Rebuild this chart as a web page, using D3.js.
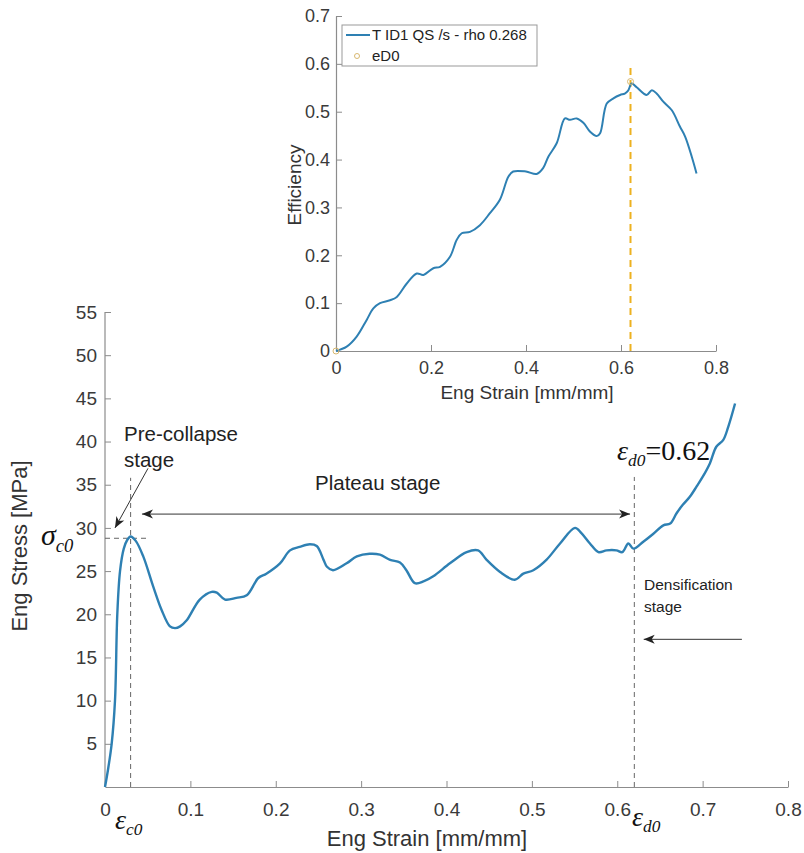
<!DOCTYPE html>
<html>
<head>
<meta charset="utf-8">
<script src="https://cdn.jsdelivr.net/npm/d3@7"></script>
<style>
  body { margin: 0; background: #fff; }
  svg { display: block; }
  .tick text { font-family: "Liberation Sans", Arial, sans-serif; fill: #3a3a3a; }
</style>
</head>
<body>
<svg id="chart" width="804" height="853"></svg>
<script>
// ---- main stress-strain curve (strain, stress in MPa) ----
const stressStrain = [0, 0.0035, 0.0078, 0.0117, 0.0144, 0.0176, 0.022, 0.026, 0.030, 0.036,
  0.0448, 0.0565, 0.0663, 0.0761, 0.082, 0.088, 0.0957, 0.111, 0.125, 0.131,
  0.1406, 0.154, 0.166, 0.1796, 0.189, 0.205, 0.2167, 0.228, 0.24, 0.248,
  0.256, 0.26, 0.267, 0.283, 0.295, 0.31, 0.322, 0.334, 0.3455, 0.353,
  0.363, 0.373, 0.3845, 0.404, 0.4236, 0.437, 0.447, 0.4627, 0.48, 0.49,
  0.5017, 0.517, 0.533, 0.5505, 0.558, 0.568, 0.578, 0.5875, 0.599, 0.606,
  0.613, 0.619, 0.6305, 0.642, 0.654, 0.662, 0.6695, 0.677, 0.685, 0.693,
  0.7, 0.7086, 0.716, 0.7242, 0.730, 0.738];
const stressValues = [0, 2, 5, 10, 20, 25, 27.6, 28.6, 29.0, 28.5,
  26.7, 23.2, 20.5, 18.6, 18.4, 18.6, 19.3, 21.7, 22.6, 22.5,
  21.7, 21.9, 22.2, 24.2, 24.7, 25.9, 27.4, 27.8, 28.1, 27.9,
  26.3, 25.5, 25.1, 25.9, 26.7, 27.0, 26.9, 26.3, 26.0, 25.1,
  23.6, 23.8, 24.4, 25.9, 27.2, 27.4, 26.3, 24.9, 24.0, 24.7,
  25.1, 26.3, 28.2, 30.0, 29.4, 28.2, 27.2, 27.4, 27.4, 27.2,
  28.2, 27.6, 28.4, 29.3, 30.3, 30.5, 31.7, 32.7, 33.6, 34.8,
  35.9, 37.5, 39.4, 40.2, 41.7, 44.4];

// ---- inset efficiency curve ----
const effStrain = [0, 0.0225, 0.0435, 0.0646, 0.0786, 0.0926, 0.1137, 0.128, 0.149, 0.17,
  0.184, 0.2049, 0.219, 0.24, 0.254, 0.2646, 0.282, 0.303, 0.324, 0.345,
  0.3628, 0.373, 0.40, 0.4225, 0.436, 0.447, 0.4646, 0.482, 0.4926, 0.5067,
  0.5207, 0.535, 0.549, 0.556, 0.57, 0.584, 0.598, 0.608, 0.615, 0.6225,
  0.633, 0.654, 0.665, 0.675, 0.689, 0.707, 0.724, 0.735, 0.749, 0.759];
const effValues = [0, 0.009, 0.030, 0.065, 0.089, 0.100, 0.106, 0.113, 0.141, 0.162,
  0.159, 0.173, 0.176, 0.197, 0.232, 0.246, 0.249, 0.263, 0.288, 0.316,
  0.364, 0.375, 0.375, 0.370, 0.382, 0.406, 0.434, 0.486, 0.483, 0.486,
  0.477, 0.458, 0.449, 0.455, 0.517, 0.528, 0.535, 0.538, 0.544, 0.559,
  0.551, 0.535, 0.545, 0.538, 0.521, 0.503, 0.469, 0.448, 0.406, 0.371];

// characteristic points
const epsC0 = 0.03;
const sigmaC0 = 28.8;
const epsD0 = 0.62;
const eD0Points = [[0, 0], [0.62, 0.563]];

// ticks
const mainXTicks = [0, 0.1, 0.2, 0.3, 0.4, 0.5, 0.6, 0.7, 0.8];
const mainYTicks = [5, 10, 15, 20, 25, 30, 35, 40, 45, 50, 55];
const insetXTicks = [0, 0.2, 0.4, 0.6, 0.8];
const insetYTicks = [0, 0.1, 0.2, 0.3, 0.4, 0.5, 0.6, 0.7];

const legendLabels = ["T ID1 QS /s - rho 0.268", "eD0"];

const svg = d3.select("#chart");
const sans = '"Liberation Sans", Arial, sans-serif';
const serif = '"Liberation Serif", "Times New Roman", serif';
const axisGray = "#8c8c8c";
const lineBlue = "#2e80b3";

svg.append("rect").attr("width", 804).attr("height", 853).attr("fill", "#fff");

// arrow head marker
const defs = svg.append("defs");
defs.append("marker")
  .attr("id", "head")
  .attr("viewBox", "-12 -6 14 12")
  .attr("refX", 0).attr("refY", 0)
  .attr("markerUnits", "userSpaceOnUse")
  .attr("markerWidth", 14).attr("markerHeight", 12)
  .attr("orient", "auto-start-reverse")
  .append("path")
  .attr("d", "M-11,-4.5 L0,0 L-11,4.5 L-8,0 Z")
  .attr("fill", "#222");

function styleAxis(g, fontSize) {
  g.select(".domain").attr("stroke", axisGray).attr("stroke-width", 1.2);
  g.selectAll(".tick line").attr("stroke", axisGray);
  g.selectAll(".tick text").attr("font-size", fontSize);
}

// ================= main chart =================
const x = d3.scaleLinear().domain([0, 0.8]).range([105, 788]);
const y = d3.scaleLinear().domain([0, 55]).range([787, 312]);

const xAxis = svg.append("g")
  .attr("transform", `translate(0,${y(0)})`)
  .call(d3.axisBottom(x).tickValues(mainXTicks).tickFormat(d => d === 0 ? "0" : d3.format(".1f")(d))
    .tickSize(-6).tickSizeOuter(0).tickPadding(16));
styleAxis(xAxis, 19);
xAxis.selectAll(".tick line").filter(d => d === 0).remove();

const yAxis = svg.append("g")
  .attr("transform", `translate(${x(0)},0)`)
  .call(d3.axisLeft(y).tickValues(mainYTicks).tickSize(-6).tickSizeOuter(0).tickPadding(8));
styleAxis(yAxis, 19);
yAxis.select(".domain").attr("d", `M0,${y(55)}V${y(0)}`);

// axis labels
svg.append("text")
  .attr("x", 427).attr("y", 846)
  .attr("text-anchor", "middle")
  .attr("font-family", sans).attr("font-size", 22).attr("fill", "#333")
  .text("Eng Strain [mm/mm]");

svg.append("text")
  .attr("transform", `translate(27,546) rotate(-90)`)
  .attr("text-anchor", "middle")
  .attr("font-family", sans).attr("font-size", 22).attr("fill", "#333")
  .text("Eng Stress [MPa]");

// dashed guide lines
const guide = svg.append("g")
  .attr("stroke", "#666").attr("stroke-width", 1).attr("stroke-dasharray", "5,4").attr("fill", "none");
guide.append("line")
  .attr("x1", x(epsC0)).attr("x2", x(epsC0))
  .attr("y1", y(0)).attr("y2", y(35.8));
guide.append("line")
  .attr("x1", x(0)).attr("x2", x(0.049))
  .attr("y1", y(sigmaC0)).attr("y2", y(sigmaC0));
guide.append("line")
  .attr("x1", x(epsD0)).attr("x2", x(epsD0))
  .attr("y1", y(0)).attr("y2", y(35.9));

// stress curve
const stressData = stressStrain.map((s, i) => ({ s: s, v: stressValues[i] }));
svg.append("path")
  .datum(stressData)
  .attr("fill", "none")
  .attr("stroke", lineBlue)
  .attr("stroke-width", 2.4)
  .attr("stroke-linejoin", "round")
  .attr("d", d3.line().x(d => x(d.s)).y(d => y(d.v)).curve(d3.curveCatmullRom.alpha(0.5)));

// annotation arrows
const arrows = svg.append("g").attr("stroke", "#333").attr("stroke-width", 1).attr("fill", "none");
arrows.append("line")
  .attr("x1", x(0.0504)).attr("y1", y(36.9))
  .attr("x2", x(0.0117)).attr("y2", y(30.0))
  .attr("marker-end", "url(#head)");
arrows.append("line")
  .attr("x1", x(0.0433)).attr("y1", y(31.6))
  .attr("x2", x(0.615)).attr("y2", y(31.6))
  .attr("marker-start", "url(#head)")
  .attr("marker-end", "url(#head)");
arrows.append("line")
  .attr("x1", x(0.746)).attr("y1", y(17.1))
  .attr("x2", x(0.631)).attr("y2", y(17.1))
  .attr("marker-end", "url(#head)");

// annotation texts
const note = (tx, ty, str, size) => svg.append("text")
  .attr("x", tx).attr("y", ty)
  .attr("font-family", sans).attr("font-size", size).attr("fill", "#222")
  .text(str);
note(124, 441, "Pre-collapse", 20.5);
note(124, 467, "stage", 20.5);
note(315, 490, "Plateau stage", 20.5);
note(644, 590, "Densification", 15.5);
note(644, 612, "stage", 15.5);

// greek symbol labels
function greek(tx, ty, sym, sub, size, extra) {
  const t = svg.append("text")
    .attr("x", tx).attr("y", ty)
    .attr("font-family", serif).attr("font-size", size).attr("fill", "#111");
  t.append("tspan").attr("font-style", "italic").text(sym);
  t.append("tspan").attr("font-style", "italic").attr("font-size", size * 0.62)
    .attr("dy", size * 0.22).text(sub);
  if (extra) {
    t.append("tspan").attr("dy", -size * 0.22).text(extra);
  }
  return t;
}
greek(41, 545, "σ", "c0", 30);
greek(115, 829, "ε", "c0", 28);
greek(632, 826, "ε", "d0", 28);
greek(617, 460, "ε", "d0", 28, "=0.62");

// ================= inset chart =================
const ix = d3.scaleLinear().domain([0, 0.8]).range([336, 716]);
const iy = d3.scaleLinear().domain([0, 0.7]).range([351, 16]);

const ixAxis = svg.append("g")
  .attr("transform", `translate(0,${iy(0)})`)
  .call(d3.axisBottom(ix).tickValues(insetXTicks).tickFormat(d => d === 0 ? "0" : d3.format(".1f")(d))
    .tickSize(-6).tickSizeOuter(0).tickPadding(10));
styleAxis(ixAxis, 18);
ixAxis.selectAll(".tick line").filter(d => d === 0).remove();

const iyAxis = svg.append("g")
  .attr("transform", `translate(${ix(0)},0)`)
  .call(d3.axisLeft(iy).tickValues(insetYTicks).tickFormat(d => d === 0 ? "0" : d3.format(".1f")(d))
    .tickSize(-6).tickSizeOuter(0).tickPadding(6));
styleAxis(iyAxis, 18);
iyAxis.selectAll(".tick line").filter(d => d === 0).remove();

svg.append("text")
  .attr("x", 527).attr("y", 399)
  .attr("text-anchor", "middle")
  .attr("font-family", sans).attr("font-size", 19).attr("fill", "#333")
  .text("Eng Strain [mm/mm]");

svg.append("text")
  .attr("transform", `translate(301,185) rotate(-90)`)
  .attr("text-anchor", "middle")
  .attr("font-family", sans).attr("font-size", 19).attr("fill", "#333")
  .text("Efficiency");

// eD0 vertical line
svg.append("line")
  .attr("x1", ix(epsD0)).attr("x2", ix(epsD0))
  .attr("y1", iy(0)).attr("y2", iy(0.6))
  .attr("stroke", "#EDB120").attr("stroke-width", 2)
  .attr("stroke-dasharray", "7,5");

const effData = effStrain.map((s, i) => ({ s: s, v: effValues[i] }));
svg.append("path")
  .datum(effData)
  .attr("fill", "none")
  .attr("stroke", lineBlue)
  .attr("stroke-width", 2)
  .attr("stroke-linejoin", "round")
  .attr("d", d3.line().x(d => ix(d.s)).y(d => iy(d.v)).curve(d3.curveCatmullRom.alpha(0.5)));

svg.selectAll(".ed0")
  .data(eD0Points)
  .join("circle")
  .attr("class", "ed0")
  .attr("cx", d => ix(d[0])).attr("cy", d => iy(d[1]))
  .attr("r", 3)
  .attr("fill", "none")
  .attr("stroke", "#d8b870").attr("stroke-width", 1);

// legend
const legend = svg.append("g");
legend.append("rect")
  .attr("x", 342).attr("y", 25).attr("width", 195).attr("height", 41)
  .attr("fill", "#fff").attr("stroke", "#999").attr("stroke-width", 1);
legend.append("line")
  .attr("x1", 346).attr("x2", 370).attr("y1", 35).attr("y2", 35)
  .attr("stroke", lineBlue).attr("stroke-width", 2);
legend.append("circle")
  .attr("cx", 357).attr("cy", 56).attr("r", 2.5)
  .attr("fill", "none").attr("stroke", "#d8b870").attr("stroke-width", 1);
legend.selectAll(".lbl")
  .data(legendLabels)
  .join("text")
  .attr("class", "lbl")
  .attr("x", 372).attr("y", (d, i) => 40 + i * 21)
  .attr("font-family", sans).attr("font-size", 15).attr("fill", "#222")
  .text(d => d);
</script>
</body>
</html>
